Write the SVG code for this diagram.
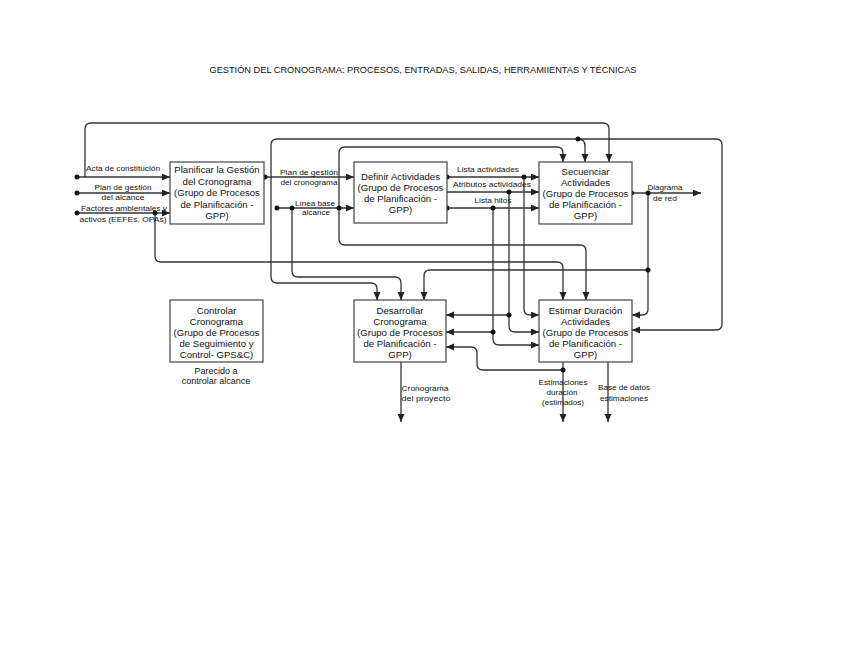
<svg xmlns="http://www.w3.org/2000/svg" width="848" height="655" viewBox="0 0 848 655">
<defs>
<style>
.box{fill:#fff;stroke:#444;stroke-width:1.2}
.bt{font-family:"Liberation Sans",Arial,sans-serif;font-size:9.6px;fill:#111;text-anchor:middle}
.nt{font-family:"Liberation Sans",Arial,sans-serif;font-size:9px;fill:#111;text-anchor:middle}
.lb{font-family:"Liberation Sans",Arial,sans-serif;font-size:8px;fill:#111;text-anchor:middle}
.ln{fill:none;stroke:#333;stroke-width:1.3}
.a{marker-end:url(#ah)}
.dot{fill:#111}
</style>
<marker id="ah" markerUnits="userSpaceOnUse" markerWidth="9" markerHeight="8" refX="8" refY="3.5" orient="auto">
<path d="M0,0 L8,3.5 L0,7 z" fill="#222"/>
</marker>
</defs>
<rect width="848" height="655" fill="#fff"/>
<text x="423" y="73" font-family="Liberation Sans,Arial,sans-serif" font-size="9" text-anchor="middle" textLength="427" lengthAdjust="spacingAndGlyphs" fill="#111">GESTIÓN DEL CRONOGRAMA: PROCESOS, ENTRADAS, SALIDAS, HERRAMIIENTAS Y TÉCNICAS</text>

<g id="connectors">
<path class="ln a" d="M77,177 H170"/>
<path class="ln a" d="M77,193 H170"/>
<path class="ln a" d="M77,213 H170"/>
<path class="ln a" d="M85,177 V129 Q85,123 91,123 H603 Q609,123 609,129 V162"/>
<path class="ln a" d="M155,213 V256 Q155,262 161,262 H557 Q563,262 563,268 V300"/>
<path class="ln a" d="M265,177 H354"/>
<path class="ln a" d="M271,177 V145 Q271,139 277,139 H716 Q722,139 722,145 V324 Q722,330 716,330 H632"/>
<path class="ln a" d="M271,177 V277 Q271,283 277,283 H371 Q377,283 377,289 V300"/>
<path class="ln a" d="M578,139 Q585,139 585,146 V162"/>
<path class="ln a" d="M277,208 H354"/>
<path class="ln a" d="M292,208 V271 Q292,277 298,277 H395 Q401,277 401,283 V300"/>
<path class="ln a" d="M339,208 V153 Q339,147 345,147 H557 Q563,147 563,153 V162"/>
<path class="ln a" d="M339,208 V239 Q339,245 345,245 H580 Q586,245 586,251 V300"/>
<path class="ln a" d="M447,177 H539"/>
<path class="ln a" d="M447,192 H539"/>
<path class="ln a" d="M447,208 H539"/>
<path class="ln a" d="M524,177 V309 Q524,315 530,315 H539"/>
<path class="ln a" d="M509,192 V326 Q509,332 515,332 H539"/>
<path class="ln a" d="M509,315 H446"/>
<path class="ln a" d="M493,208 V339 Q493,345 499,345 H539"/>
<path class="ln a" d="M493,332 H446"/>
<path class="ln a" d="M632,193 H701"/>
<path class="ln a" d="M648,193 V309 Q648,315 642,315 H632"/>
<path class="ln a" d="M648,270 H430 Q424,270 424,276 V300"/>
<path class="ln a" d="M563,362 V422"/>
<path class="ln a" d="M563,370 H483 Q477,370 477,364 V353 Q477,347 471,347 H446"/>
<path class="ln a" d="M608,362 V422"/>
<path class="ln a" d="M401,362 V422"/>

<g id="dots">
<circle class="dot" cx="77" cy="177" r="2.5"/>
<circle class="dot" cx="77" cy="193" r="2.5"/>
<circle class="dot" cx="77" cy="213" r="2.5"/>
<circle class="dot" cx="155" cy="213" r="2.5"/>
<circle class="dot" cx="265" cy="177" r="2.5"/>
<circle class="dot" cx="277" cy="208" r="2.5"/>
<circle class="dot" cx="292" cy="208" r="2.5"/>
<circle class="dot" cx="339" cy="208" r="2.5"/>
<circle class="dot" cx="578" cy="139" r="2.5"/>
<circle class="dot" cx="447" cy="177" r="2.5"/>
<circle class="dot" cx="447" cy="208" r="2.5"/>
<circle class="dot" cx="524" cy="177" r="2.5"/>
<circle class="dot" cx="509" cy="192" r="2.5"/>
<circle class="dot" cx="493" cy="208" r="2.5"/>
<circle class="dot" cx="509" cy="315" r="2.5"/>
<circle class="dot" cx="493" cy="332" r="2.5"/>
<circle class="dot" cx="632" cy="193" r="2.2"/>
<circle class="dot" cx="648" cy="193" r="2.5"/>
<circle class="dot" cx="648" cy="270" r="2.5"/>
<circle class="dot" cx="563" cy="370" r="2.5"/>
</g>

<g id="labels">
<text class="lb" x="123" y="171" textLength="74" lengthAdjust="spacingAndGlyphs">Acta de constitución</text>
<text class="lb" x="123" y="189.5" textLength="57" lengthAdjust="spacingAndGlyphs">Plan de gestión</text>
<text class="lb" x="123" y="199.5" textLength="43" lengthAdjust="spacingAndGlyphs">del alcance</text>
<text class="lb" x="124" y="211" textLength="86" lengthAdjust="spacingAndGlyphs">Factores ambientales y</text>
<text class="lb" x="123" y="222" textLength="87" lengthAdjust="spacingAndGlyphs">activos (EEFEs, OPAs)</text>
<text class="lb" x="309" y="175" textLength="58" lengthAdjust="spacingAndGlyphs">Plan de gestión</text>
<text class="lb" x="309" y="185" textLength="57" lengthAdjust="spacingAndGlyphs">del cronograma</text>
<text class="lb" x="315" y="205.5" textLength="40" lengthAdjust="spacingAndGlyphs">Línea base</text>
<text class="lb" x="316" y="215" textLength="28" lengthAdjust="spacingAndGlyphs">alcance</text>
<text class="lb" x="488" y="172" textLength="62" lengthAdjust="spacingAndGlyphs">Lista actividades</text>
<text class="lb" x="492" y="187" textLength="78" lengthAdjust="spacingAndGlyphs">Atributos actividades</text>
<text class="lb" x="493" y="203" textLength="37" lengthAdjust="spacingAndGlyphs">Lista hitos</text>
<text class="lb" x="665" y="189.5" textLength="35" lengthAdjust="spacingAndGlyphs">Diagrama</text>
<text class="lb" x="665" y="200.5" textLength="24" lengthAdjust="spacingAndGlyphs">de red</text>
<text class="lb" x="425" y="391" textLength="47" lengthAdjust="spacingAndGlyphs">Cronograma</text>
<text class="lb" x="426" y="401" textLength="49" lengthAdjust="spacingAndGlyphs">del proyecto</text>
<text class="lb" x="563" y="384.5" textLength="49" lengthAdjust="spacingAndGlyphs">Estimaciones</text>
<text class="lb" x="562" y="394.5" textLength="31" lengthAdjust="spacingAndGlyphs">duración</text>
<text class="lb" x="563" y="405" textLength="42" lengthAdjust="spacingAndGlyphs">(estimados)</text>
<text class="lb" x="624" y="390" textLength="52" lengthAdjust="spacingAndGlyphs">Base de datos</text>
<text class="lb" x="624" y="401" textLength="48" lengthAdjust="spacingAndGlyphs">estimaciones</text>
</g>
</g>

<g id="planificar">
<rect class="box" x="170" y="162" width="94" height="62"/>
<text class="bt" x="217" y="173">Planificar la Gestión</text>
<text class="bt" x="217" y="184.5">del Cronograma</text>
<text class="bt" x="217" y="196">(Grupo de Procesos</text>
<text class="bt" x="217" y="207.5">de Planificación -</text>
<text class="bt" x="217" y="219">GPP)</text>
</g>

<g id="definir">
<rect class="box" x="354" y="162" width="93" height="61"/>
<text class="bt" x="400.5" y="180">Definir Actividades</text>
<text class="bt" x="400.5" y="191">(Grupo de Procesos</text>
<text class="bt" x="400.5" y="202">de Planificación -</text>
<text class="bt" x="400.5" y="213">GPP)</text>
</g>

<g id="secuenciar">
<rect class="box" x="539" y="162" width="93" height="62"/>
<text class="bt" x="585.5" y="175">Secuenciar</text>
<text class="bt" x="585.5" y="186">Actividades</text>
<text class="bt" x="585.5" y="196.5">(Grupo de Procesos</text>
<text class="bt" x="585.5" y="207.5">de Planificación -</text>
<text class="bt" x="585.5" y="218.5">GPP)</text>
</g>

<g id="controlar">
<rect class="box" x="170" y="300" width="93" height="62"/>
<text class="bt" x="216.5" y="313.5">Controlar</text>
<text class="bt" x="216.5" y="324.5">Cronograma</text>
<text class="bt" x="216.5" y="335.5">(Grupo de Procesos</text>
<text class="bt" x="216.5" y="346.5">de Seguimiento y</text>
<text class="bt" x="216.5" y="357.5">Control- GPS&amp;C)</text>
<text class="nt" x="216" y="373.5">Parecido a</text>
<text class="nt" x="216" y="384">controlar alcance</text>
</g>

<g id="desarrollar">
<rect class="box" x="354" y="300" width="92" height="62"/>
<text class="bt" x="400" y="313.5">Desarrollar</text>
<text class="bt" x="400" y="324.5">Cronograma</text>
<text class="bt" x="400" y="335.5">(Grupo de Procesos</text>
<text class="bt" x="400" y="346.5">de Planificación -</text>
<text class="bt" x="400" y="357.5">GPP)</text>
</g>

<g id="estimar">
<rect class="box" x="539" y="300" width="93" height="62"/>
<text class="bt" x="585.5" y="313.5">Estimar Duración</text>
<text class="bt" x="585.5" y="324.5">Actividades</text>
<text class="bt" x="585.5" y="335.5">(Grupo de Procesos</text>
<text class="bt" x="585.5" y="346.5">de Planificación -</text>
<text class="bt" x="585.5" y="357.5">GPP)</text>
</g>
</svg>
